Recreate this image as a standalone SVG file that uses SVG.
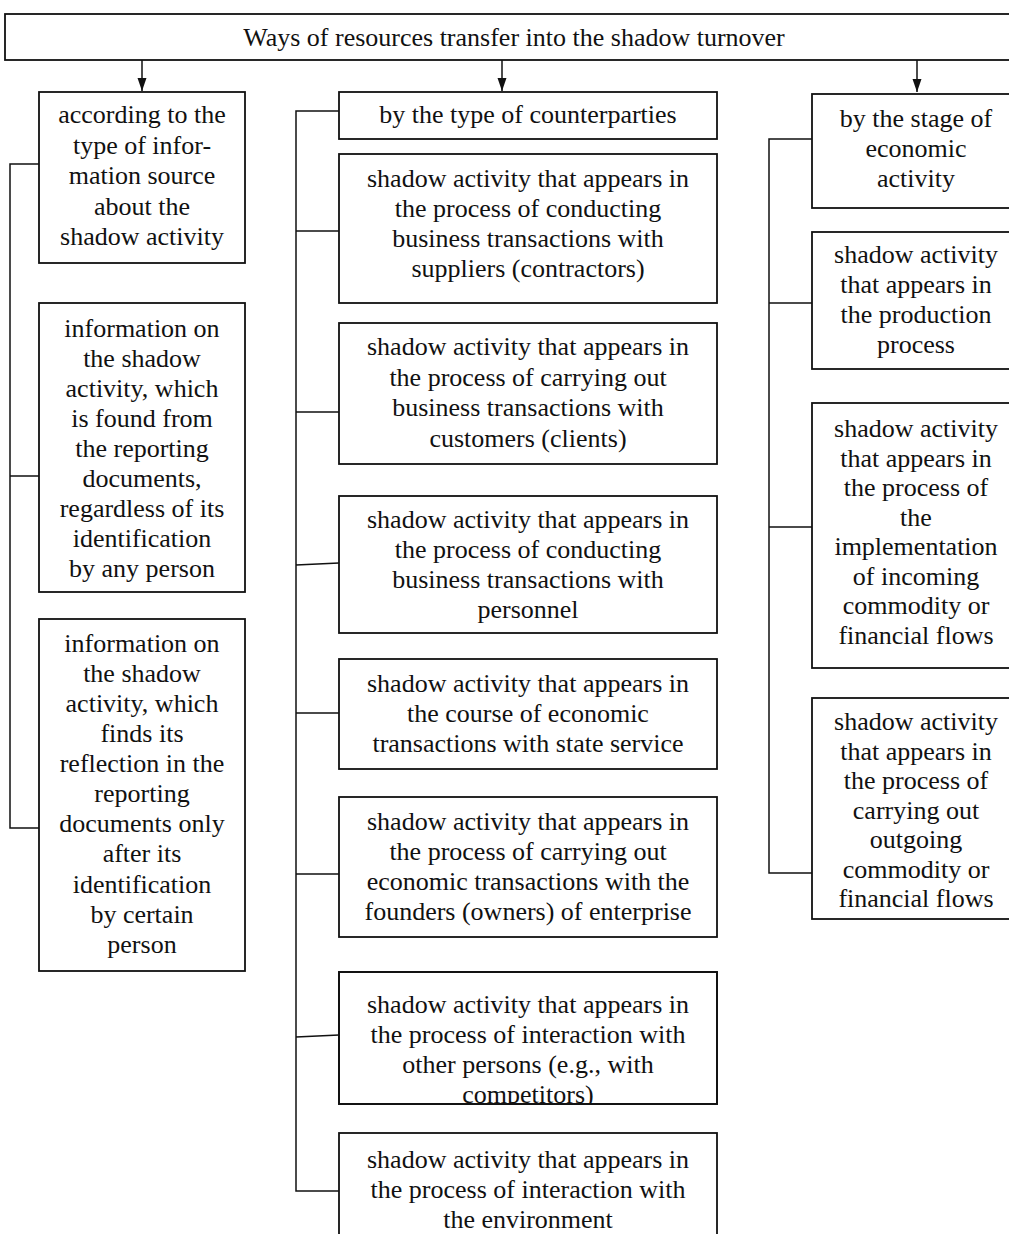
<svg xmlns="http://www.w3.org/2000/svg" width="1009" height="1234" viewBox="0 0 1009 1234">
<style>
.box{fill:#fff;stroke:#111;stroke-width:1.8}
.t{font-family:"Liberation Serif","Times New Roman",serif;font-size:26px;fill:#111;text-anchor:middle}
.c{fill:none;stroke:#111;stroke-width:1.5}
</style>
<defs>
<marker id="ah" markerUnits="userSpaceOnUse" markerWidth="14" markerHeight="10" refX="13" refY="5" orient="auto" viewBox="0 0 14 10">
<path d="M0,0.5 L13,5 L0,9.5 Z" fill="#111"/>
</marker>
<clipPath id="clipM6"><rect x="339" y="972" width="378" height="132"/></clipPath>
</defs>
<rect width="1009" height="1234" fill="#fff"/>
<g id="connectors">
<path class="c" d="M142,60 V91" marker-end="url(#ah)"/>
<path class="c" d="M502,60 V91" marker-end="url(#ah)"/>
<path class="c" d="M917,60 V92" marker-end="url(#ah)"/>
<path class="c" d="M39,164 H10 V828 H39 M10,476 H39"/>
<path class="c" d="M339,111 H296 V1191 H339 M296,231 H339 M296,412 H339 M296,565 L339,563 M296,713 H339 M296,874 H339 M296,1037 L339,1035"/>
<path class="c" d="M812,139 H769 V873 H812 M769,303 H812 M769,527 H812"/>
</g>
<g id="root">
<rect class="box" x="5" y="14" width="1020" height="46"/>
<text class="t" x="514" y="46">Ways of resources transfer into the shadow turnover</text>
</g>
<g id="L1">
<rect class="box" x="39" y="92" width="206" height="171"/>
<text class="t"><tspan x="142" y="123">according to the</tspan><tspan x="142" y="153.5">type of infor-</tspan><tspan x="142" y="184">mation source</tspan><tspan x="142" y="214.5">about the</tspan><tspan x="142" y="245">shadow activity</tspan></text>
</g>
<g id="L2">
<rect class="box" x="39" y="303" width="206" height="289"/>
<text class="t"><tspan x="142" y="337">information on</tspan><tspan x="142" y="367">the shadow</tspan><tspan x="142" y="397">activity, which</tspan><tspan x="142" y="427">is found from</tspan><tspan x="142" y="457">the reporting</tspan><tspan x="142" y="487">documents,</tspan><tspan x="142" y="517">regardless of its</tspan><tspan x="142" y="547">identification</tspan><tspan x="142" y="577">by any person</tspan></text>
</g>
<g id="L3">
<rect class="box" x="39" y="619" width="206" height="352"/>
<text class="t"><tspan x="142" y="652">information on</tspan><tspan x="142" y="682">the shadow</tspan><tspan x="142" y="712">activity, which</tspan><tspan x="142" y="742">finds its</tspan><tspan x="142" y="772">reflection in the</tspan><tspan x="142" y="802">reporting</tspan><tspan x="142" y="832">documents only</tspan><tspan x="142" y="862">after its</tspan><tspan x="142" y="893">identification</tspan><tspan x="142" y="923">by certain</tspan><tspan x="142" y="953">person</tspan></text>
</g>
<g id="M0">
<rect class="box" x="339" y="92" width="378" height="47"/>
<text class="t" x="528" y="123">by the type of counterparties</text>
</g>
<g id="M1">
<rect class="box" x="339" y="154" width="378" height="149"/>
<text class="t"><tspan x="528" y="187">shadow activity that appears in</tspan><tspan x="528" y="217">the process of conducting</tspan><tspan x="528" y="247">business transactions with</tspan><tspan x="528" y="277">suppliers (contractors)</tspan></text>
</g>
<g id="M2">
<rect class="box" x="339" y="323" width="378" height="141"/>
<text class="t"><tspan x="528" y="355">shadow activity that appears in</tspan><tspan x="528" y="386">the process of carrying out</tspan><tspan x="528" y="416">business transactions with</tspan><tspan x="528" y="447">customers (clients)</tspan></text>
</g>
<g id="M3">
<rect class="box" x="339" y="496" width="378" height="137"/>
<text class="t"><tspan x="528" y="528">shadow activity that appears in</tspan><tspan x="528" y="558">the process of conducting</tspan><tspan x="528" y="588">business transactions with</tspan><tspan x="528" y="618">personnel</tspan></text>
</g>
<g id="M4">
<rect class="box" x="339" y="659" width="378" height="110"/>
<text class="t"><tspan x="528" y="692">shadow activity that appears in</tspan><tspan x="528" y="722">the course of economic</tspan><tspan x="528" y="752">transactions with state service</tspan></text>
</g>
<g id="M5">
<rect class="box" x="339" y="797" width="378" height="140"/>
<text class="t"><tspan x="528" y="830">shadow activity that appears in</tspan><tspan x="528" y="860">the process of carrying out</tspan><tspan x="528" y="890">economic transactions with the</tspan><tspan x="528" y="920">founders (owners) of enterprise</tspan></text>
</g>
<g id="M6">
<rect class="box" x="339" y="972" width="378" height="132"/>
<text class="t" clip-path="url(#clipM6)"><tspan x="528" y="1013">shadow activity that appears in</tspan><tspan x="528" y="1043">the process of interaction with</tspan><tspan x="528" y="1073">other persons (e.g., with</tspan><tspan x="528" y="1103">competitors)</tspan></text>
<rect x="339" y="972" width="378" height="132" fill="none" stroke="#111" stroke-width="1.8"/>
</g>
<g id="M7">
<rect class="box" x="339" y="1133" width="378" height="112"/>
<text class="t"><tspan x="528" y="1168">shadow activity that appears in</tspan><tspan x="528" y="1198">the process of interaction with</tspan><tspan x="528" y="1228">the environment</tspan></text>
</g>
<g id="R1">
<rect class="box" x="812" y="94" width="210" height="114"/>
<text class="t"><tspan x="916" y="127">by the stage of</tspan><tspan x="916" y="157">economic</tspan><tspan x="916" y="187">activity</tspan></text>
</g>
<g id="R2">
<rect class="box" x="812" y="232" width="210" height="137"/>
<text class="t"><tspan x="916" y="263">shadow activity</tspan><tspan x="916" y="293">that appears in</tspan><tspan x="916" y="323">the production</tspan><tspan x="916" y="353">process</tspan></text>
</g>
<g id="R3">
<rect class="box" x="812" y="403" width="210" height="265"/>
<text class="t"><tspan x="916" y="437">shadow activity</tspan><tspan x="916" y="466.5">that appears in</tspan><tspan x="916" y="496">the process of</tspan><tspan x="916" y="525.5">the</tspan><tspan x="916" y="555">implementation</tspan><tspan x="916" y="584.5">of incoming</tspan><tspan x="916" y="614">commodity or</tspan><tspan x="916" y="643.5">financial flows</tspan></text>
</g>
<g id="R4">
<rect class="box" x="812" y="698" width="210" height="221"/>
<text class="t"><tspan x="916" y="730">shadow activity</tspan><tspan x="916" y="759.5">that appears in</tspan><tspan x="916" y="789">the process of</tspan><tspan x="916" y="818.5">carrying out</tspan><tspan x="916" y="848">outgoing</tspan><tspan x="916" y="877.5">commodity or</tspan><tspan x="916" y="907">financial flows</tspan></text>
</g>
</svg>
